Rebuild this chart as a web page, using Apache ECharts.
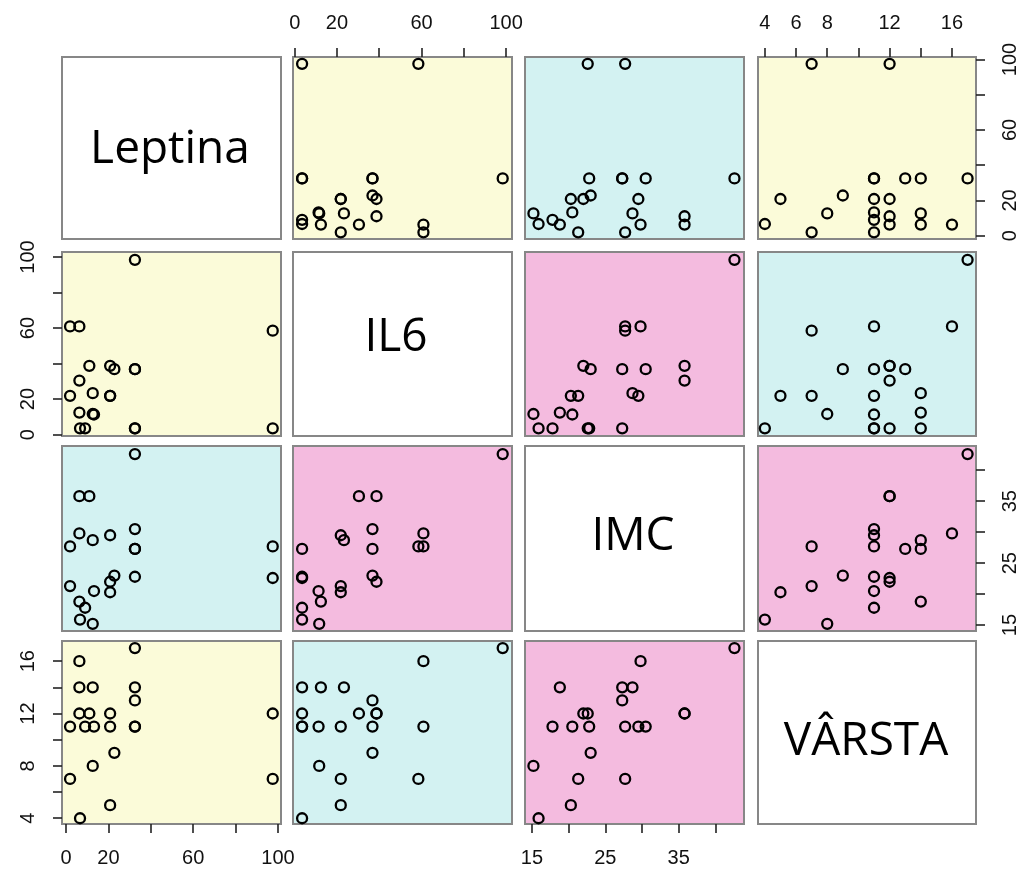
<!DOCTYPE html>
<html>
<head>
<meta charset="utf-8">
<title>Leptina, IL6, IMC, VÂRSTA</title>
<script src="https://cdn.jsdelivr.net/npm/echarts@6/dist/echarts.min.js"></script>
<style>
  html, body { margin: 0; background: #fff; }
  #chart { width: 1028px; height: 869px; }
</style>
</head>
<body>
<div id="chart"></div>
<script>
// one value per subject, same order in every array
const names = ['Leptina', 'IL6', 'IMC', 'VÂRSTA']
const leptina = [32.5, 6.3, 32.5, 22.8, 12.6, 97.5, 1.9, 20.8, 6.6, 97.5, 6.3, 12.6, 32.5, 6.3, 11, 20.8, 1.9, 9, 32.5, 32.5, 20.8, 13.2]
const il6 = [98.4, 60.9, 36.8, 36.8, 11.6, 58.5, 21.8, 21.8, 3.5, 3.5, 12.4, 23.3, 3.5, 30.4, 38.7, 38.7, 60.9, 3.5, 36.8, 3.5, 21.8, 11.3]
const imc = [42.6, 29.8, 27.3, 23.0, 15.2, 27.7, 21.3, 20.3, 15.9, 22.6, 18.8, 28.7, 27.3, 35.8, 35.8, 22.0, 27.7, 17.8, 30.5, 22.8, 29.5, 20.5]
const varsta = [17, 16, 13, 9, 8, 7, 7, 5, 4, 12, 14, 14, 14, 12, 12, 12, 11, 11, 11, 11, 11, 11]

// axis limits and ticks
const leptinaRange = [-1.9, 101.4]
const il6Range = [-0.8, 102.8]
const imcRange = [14.05, 43.9]
const varstaRange = [3.56, 17.54]
const leptinaTicks = [0, 20, 40, 60, 80, 100]
const leptinaLabels = [0, 20, 60, 100]
const il6Ticks = [0, 20, 40, 60, 80, 100]
const il6Labels = [0, 20, 60, 100]
const imcTicks = [15, 20, 25, 30, 35, 40]
const imcLabels = [15, 25, 35]
const varstaTicks = [4, 6, 8, 10, 12, 14, 16]
const varstaLabelsTop = [4, 6, 8, 12, 16]
const varstaLabelsLeft = [4, 8, 12, 16]

const values = [leptina, il6, imc, varsta]
const ranges = [leptinaRange, il6Range, imcRange, varstaRange]
const ticks = [leptinaTicks, il6Ticks, imcTicks, varstaTicks]
const xLabels = [leptinaLabels, il6Labels, imcLabels, varstaLabelsTop]
const yLabels = [leptinaLabels, il6Labels, imcLabels, varstaLabelsLeft]

// panel edges in px
const colLeft = [62, 293, 525, 758]
const colRight = [281, 512, 744, 976]
const rowTop = [57, 252, 446, 641]
const rowBottom = [239, 436, 631, 824]

const yellow = '#fbfbd9'
const cyan = '#d3f2f2'
const pink = '#f4bbdf'
const panelColors = {
  '01': yellow, '02': cyan, '03': yellow,
  '12': pink, '13': cyan, '23': pink
}

function axis(v, idx, position, show, labels, rotate) {
  return {
    type: 'value',
    gridIndex: idx,
    min: ranges[v][0],
    max: ranges[v][1],
    position: position,
    show: show,
    axisLine: { show: false, onZero: false },
    splitLine: { show: false },
    axisTick: {
      show: true,
      length: 9,
      customValues: ticks[v],
      lineStyle: { color: '#222', width: 1.6 }
    },
    axisLabel: {
      customValues: labels,
      rotate: rotate,
      margin: 24,
      color: '#111',
      fontSize: 20,
      fontFamily: 'Liberation Sans'
    }
  }
}

const grids = []
const xAxes = []
const yAxes = []
const series = []
for (let r = 0; r < 4; r++) {
  for (let c = 0; c < 4; c++) {
    const idx = r * 4 + c
    const key = r < c ? '' + r + c : '' + c + r
    grids.push({
      left: colLeft[c],
      top: rowTop[r],
      width: colRight[c] - colLeft[c],
      height: rowBottom[r] - rowTop[r],
      show: true,
      backgroundColor: r === c ? '#fff' : panelColors[key],
      borderColor: '#878787',
      borderWidth: 2,
      outerBoundsMode: 'none'
    })
    const bottomX = r === 3 && (c === 0 || c === 2)
    const topX = r === 0 && (c === 1 || c === 3)
    const leftY = c === 0 && (r === 1 || r === 3)
    const rightY = c === 3 && (r === 0 || r === 2)
    xAxes.push(axis(c, idx, topX ? 'top' : 'bottom', bottomX || topX, xLabels[c], 0))
    yAxes.push(axis(r, idx, rightY ? 'right' : 'left', leftY || rightY, yLabels[r], 90))
    if (r !== c) {
      series.push({
        type: 'scatter',
        xAxisIndex: idx,
        yAxisIndex: idx,
        symbol: 'circle',
        symbolSize: 10,
        itemStyle: { color: 'rgba(0,0,0,0)', borderColor: '#000', borderWidth: 2.3, opacity: 1 },
        emphasis: { disabled: true },
        data: values[c].map((x, k) => [x, values[r][k]])
      })
    }
  }
}

const namePos = [[170, 150], [396, 338], [633, 537], [866, 742]]

const chart = echarts.init(document.getElementById('chart'))
chart.setOption({
  backgroundColor: '#fff',
  animation: false,
  grid: grids,
  xAxis: xAxes,
  yAxis: yAxes,
  series: series,
  graphic: names.map((n, i) => ({
    type: 'text',
    x: namePos[i][0],
    y: namePos[i][1],
    z: 10,
    style: {
      text: n,
      font: '46px "Open Sans"',
      fill: '#000',
      align: 'center',
      verticalAlign: 'middle',
      textAlign: 'center',
      textVerticalAlign: 'middle'
    }
  }))
})
window.onresize = () => {
  chart.resize()
}
</script>
</body>
</html>
